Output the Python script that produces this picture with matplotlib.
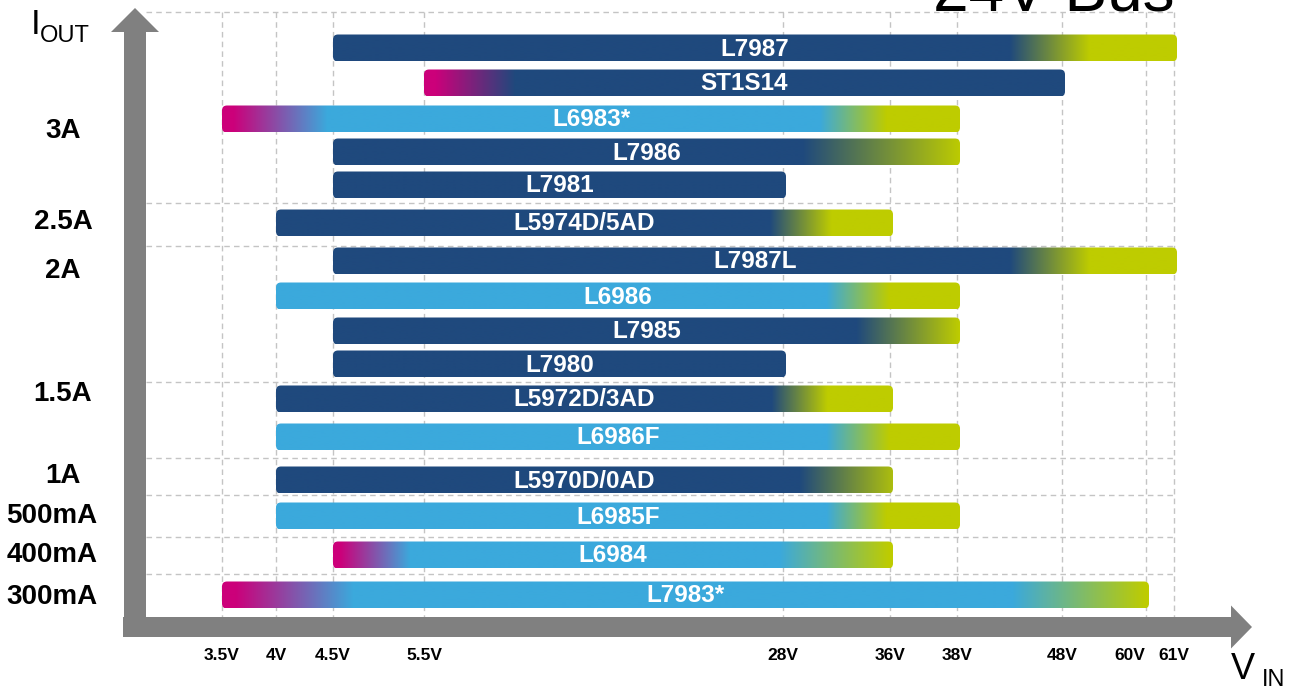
import numpy as np
import matplotlib
matplotlib.use('Agg')
import matplotlib.pyplot as plt
from matplotlib.patches import FancyBboxPatch, FancyArrow
from matplotlib.colors import to_rgb

plt.rcParams['font.family'] = ['Liberation Sans', 'DejaVu Sans']

# data
parts = ['L7987', 'ST1S14', 'L6983*', 'L7986', 'L7981', 'L5974D/5AD',
         'L7987L', 'L6986', 'L7985', 'L7980', 'L5972D/3AD', 'L6986F',
         'L5970D/0AD', 'L6985F', 'L6984', 'L7983*']
vin_min = [4.5, 5.5, 3.5, 4.5, 4.5, 4, 4.5, 4, 4.5, 4.5, 4, 4, 4, 4, 4.5, 3.5]
vin_max = [61, 48, 38, 38, 28, 36, 61, 38, 38, 28, 36, 38, 36, 38, 36, 60]
iout_labels = ['3A', '2.5A', '2A', '1.5A', '1A', '500mA', '400mA', '300mA']
vin_ticks = [3.5, 4, 4.5, 5.5, 28, 36, 38, 48, 60, 61]
vin_tick_labels = ['3.5V', '4V', '4.5V', '5.5V', '28V', '36V', '38V', '48V', '60V', '61V']

# styles / layout (pixel space)
NAVY, LBLUE, MAG, LIME = '#1f497d', '#3ba9dc', '#cc007a', '#becc00'
base_col = [NAVY, NAVY, LBLUE, NAVY, NAVY, NAVY, NAVY, LBLUE, NAVY, NAVY,
            NAVY, LBLUE, NAVY, LBLUE, LBLUE, LBLUE]
mag_fade = [None, (435, 515), (233, 327), None, None, None, None, None, None,
            None, None, None, None, None, (340, 410), (235, 353)]
lime_fade = [(1010, 1090), None, (820, 887), (803, 962), None, (770, 832),
             (1010, 1090), (827, 890), (857, 960), None, (772, 828), (827, 890),
             (800, 905), (827, 887), (780, 890), (1013, 1147)]
tick_px = [222, 276, 333, 424, 783, 890, 957, 1062, 1146, 1174]
row_y = [48, 83, 119, 152, 185, 223, 261, 296, 331, 364, 399, 437, 480, 516, 555, 595]
grid_y = [12, 203, 246, 382, 458, 495, 537, 574]
label_y = [131, 222, 271, 394, 476, 516, 555, 597]
BAR_H = 27


def vx(v):
    return np.interp(v, vin_ticks, tick_px)


fig = plt.figure(figsize=(12.95, 6.89), dpi=100)
ax = fig.add_axes([0, 0, 1, 1])
ax.axis('off')

# grid
gcol = '#c4c4c4'
ax.vlines(vx(np.array(vin_ticks)), 12, 617, colors=gcol, lw=1, linestyles=(0, (4, 3)), zorder=1)
ax.hlines(grid_y, 146, 1176, colors=gcol, lw=1, linestyles=(0, (4, 3)), zorder=1)

# bars
for i, name in enumerate(parts):
    x0 = vx(vin_min[i])
    x1 = vx(vin_max[i]) + 3
    y = row_y[i]
    xs = np.arange(x0, x1 + 1)
    stops_x, stops_c = [], []
    if mag_fade[i]:
        stops_x += [x0, mag_fade[i][0], mag_fade[i][1]]
        stops_c += [MAG, MAG, base_col[i]]
    else:
        stops_x += [x0]
        stops_c += [base_col[i]]
    if lime_fade[i]:
        stops_x += [lime_fade[i][0], lime_fade[i][1], max(x1, lime_fade[i][1]) + 1]
        stops_c += [base_col[i], LIME, LIME]
    else:
        stops_x += [x1 + 1]
        stops_c += [base_col[i]]
    rgb = np.array([to_rgb(c) for c in stops_c])
    img = np.stack([np.interp(xs, stops_x, rgb[:, k]) for k in range(3)], axis=-1)[None, :, :]
    im = ax.imshow(img, extent=[x0, x1, y + BAR_H / 2, y - BAR_H / 2],
                   aspect='auto', interpolation='bilinear', zorder=2)
    box = FancyBboxPatch((x0, y - BAR_H / 2), x1 - x0, BAR_H,
                         boxstyle='round,pad=0,rounding_size=5',
                         fc='none', ec='none', transform=ax.transData)
    ax.add_patch(box)
    im.set_clip_path(box)
    ax.text((x0 + x1) / 2, y + 1, name, color='white', fontsize=17.5,
            fontweight='bold', ha='center', va='center', zorder=3)

# axes arrows
ax.add_patch(FancyArrow(135, 637, 0, -629, width=22, head_width=48, head_length=24,
                        length_includes_head=True, color='#808080', lw=0, zorder=4))
ax.add_patch(FancyArrow(123, 627, 1129, 0, width=20, head_width=43, head_length=21,
                        length_includes_head=True, color='#808080', lw=0, zorder=4))

# y labels
for lab, yy in zip(iout_labels, label_y):
    xc = 52 if 'mA' in lab else 63
    ax.text(xc, yy, lab, fontsize=20, fontweight='bold', ha='center', va='center')

# x tick labels
for v, lab in zip(vin_ticks, vin_tick_labels):
    if lab == '60V':
        ax.text(vx(v) - 1, 655, lab, fontsize=12.5, fontweight='bold', ha='right', va='center')
    else:
        ax.text(vx(v), 655, lab, fontsize=12.5, fontweight='bold', ha='center', va='center')

# axis titles
ax.text(31, 34, 'I', fontsize=25, ha='left', va='baseline')
ax.text(40, 42, 'OUT', fontsize=17, ha='left', va='baseline')
ax.text(1231, 679, 'V', fontsize=26, ha='left', va='baseline')
ax.text(1262, 686, 'IN', fontsize=17, ha='left', va='baseline')
ax.text(933, 12, '24V Bus', fontsize=46, ha='left', va='baseline', zorder=5)

ax.set_xlim(0, 1295)
ax.set_ylim(689, 0)
fig.savefig('out.png', dpi=100)
